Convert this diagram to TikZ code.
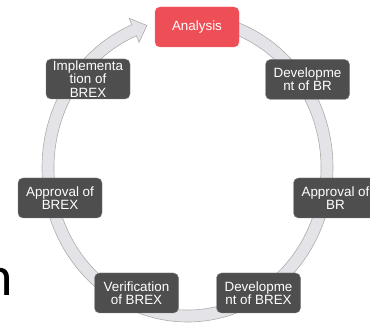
\documentclass[tikz,border=0pt]{standalone}
\usepackage{fontspec}
\setmainfont{Liberation Sans}
\newfontfamily\titlefont{Carlito}
\definecolor{boxred}{RGB}{238,78,86}
\definecolor{boxgray}{RGB}{78,78,78}
\definecolor{ringgray}{RGB}{228,228,232}
\tikzset{
	stepbox/.style={draw=black!50, fill=boxgray, rounded corners=5pt, minimum width=84pt, minimum height=40pt, inner sep=1pt, align=center, text=white, font=\fontsize{13.4}{13.4}\selectfont},
	firstbox/.style={stepbox, draw=red!60, fill=boxred}
}
\begin{document}
\begin{tikzpicture}[x=1pt,y=1pt]
		\useasboundingbox (0,0) rectangle (370,323);
		
		%ANELLO
		\begin{scope}[shift={(187.5,155.5)}]
		\filldraw[fill=ringgray, draw=gray!65, line width=0.6pt] (85:145.5 and 154.5) arc[start angle=85, end angle=-247.5, x radius=145.5, y radius=154.5]
			-- (-247.5:152.5 and 161.5) -- (-40.6,142) -- (-247.5:126.5 and 135.5)
			-- (-247.5:133.5 and 142.5) arc[start angle=-247.5, end angle=85, x radius=133.5, y radius=142.5] -- cycle;
		\end{scope}
		
		%FASI
		\node[firstbox] (analysis) at (197,296) {Analysis};
		\node[stepbox] (devbr) at (307.5,243.5) {Developme\\nt of BR};
		\node[stepbox] (appbr) at (335.5,125) {Approval of\\BR};
		\node[stepbox] (devbrex) at (258.5,30) {Developme\\nt of BREX};
		\node[stepbox] (verbrex) at (136.5,30) {Verification\\of BREX};
		\node[stepbox] (appbrex) at (60,125) {Approval of\\BREX};
		\node[stepbox] (impbrex) at (88,244) {Implementa\\tion of\\BREX};
		
		%TITOLO
		\node[anchor=base west, inner sep=0pt, font=\titlefont\fontsize{56}{56}\selectfont] (title) at (-17,27) {n};
	\end{tikzpicture}
\end{document}
